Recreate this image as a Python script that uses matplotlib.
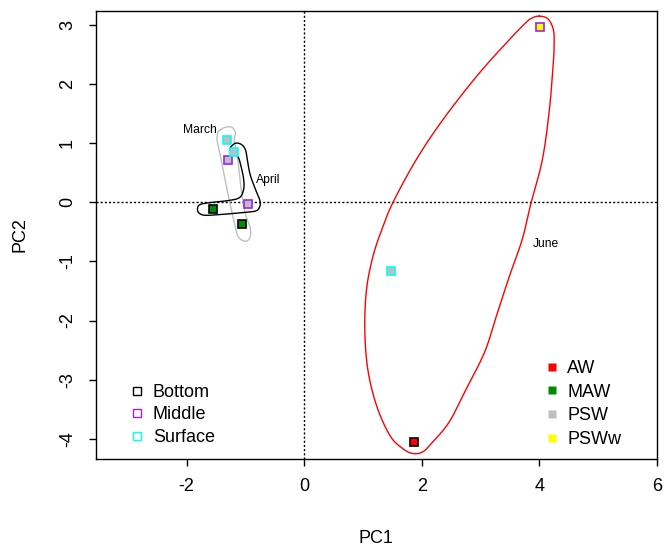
import numpy as np
import matplotlib
matplotlib.use('Agg')
import matplotlib.pyplot as plt
from matplotlib.lines import Line2D

plt.rcParams['font.family'] = ['Liberation Sans', 'DejaVu Sans']
plt.rcParams['axes.unicode_minus'] = False

# PCA scores, one row per sample
month = ['March', 'March', 'March', 'April', 'April', 'April', 'June', 'June', 'June']
depth = ['Surface', 'Middle', 'Bottom'] * 3
water = ['PSW', 'PSW', 'MAW', 'PSW', 'PSW', 'MAW', 'PSW', 'PSWw', 'AW']
pc1 = [-1.31, -1.29, -1.06, -1.20, -0.95, -1.56, 1.47, 4.01, 1.86]
pc2 = [1.05, 0.72, -0.36, 0.85, -0.03, -0.11, -1.16, 2.97, -4.06]

depth_names = ['Bottom', 'Middle', 'Surface']
depth_cols = {'Bottom': 'black', 'Middle': '#A020F0', 'Surface': '#00FFFF'}
water_names = ['AW', 'MAW', 'PSW', 'PSWw']
water_cols = {'AW': '#FF0000', 'MAW': '#008B00', 'PSW': '#BEBEBE', 'PSWw': '#FFFF00'}

# outlines around each month (PC units)
march_x = [-1.42, -1.34, -1.23, -1.17, -1.19, -1.15, -1.12, -1.07, -1.00, -0.92, -0.92,
           -1.00, -1.12, -1.17, -1.25, -1.34, -1.42, -1.48, -1.47]
march_y = [1.23, 1.27, 1.27, 1.18, 1.06, 0.86, 0.64, 0.20, -0.20, -0.42, -0.59,
           -0.66, -0.59, -0.42, -0.08, 0.35, 0.76, 1.03, 1.18]
april_x = [-1.25, -1.17, -1.07, -1.00, -0.97, -0.92, -0.83, -0.76, -0.75, -0.81, -1.00,
           -1.34, -1.68, -1.80, -1.81, -1.75, -1.56, -1.29, -1.10, -1.03, -1.03, -1.07,
           -1.12, -1.20, -1.25]
april_y = [0.93, 1.00, 0.98, 0.89, 0.73, 0.47, 0.22, 0.05, -0.05, -0.14, -0.17,
           -0.20, -0.22, -0.17, -0.08, -0.03, 0.00, 0.03, 0.08, 0.22, 0.39, 0.59,
           0.76, 0.83, 0.86]
june_x = [4.00, 4.15, 4.24, 4.25, 4.24, 4.17, 4.05, 3.86, 3.71, 3.49, 3.27, 3.07, 2.76,
          2.47, 2.19, 2.02, 1.85, 1.68, 1.46, 1.23, 1.08, 1.03, 1.06, 1.17, 1.32, 1.51,
          1.91, 2.36, 2.93, 3.44, 3.77, 3.88]
june_y = [3.15, 3.10, 2.91, 2.66, 2.41, 1.57, 0.72, 0.00, -0.62, -1.25, -1.92, -2.53,
          -3.15, -3.71, -4.05, -4.22, -4.25, -4.17, -3.95, -3.44, -2.82, -2.14, -1.47,
          -0.91, -0.46, 0.00, 0.73, 1.40, 2.13, 2.70, 3.04, 3.12]

month_labels = ['March', 'April', 'June']
label_x = [-1.77, -0.61, 4.11]
label_y = [1.23, 0.38, -0.70]


def closed_spline(xs, ys, n=16):
    # periodic Catmull-Rom through the outline points
    P = np.column_stack([xs, ys])
    N = len(P)
    t = np.linspace(0, 1, n, endpoint=False)[:, None]
    segs = []
    for i in range(N):
        p0, p1, p2, p3 = P[(i - 1) % N], P[i], P[(i + 1) % N], P[(i + 2) % N]
        segs.append(0.5 * (2 * p1 + (-p0 + p2) * t + (2 * p0 - 5 * p1 + 4 * p2 - p3) * t**2
                           + (-p0 + 3 * p1 - 3 * p2 + p3) * t**3))
    segs.append(P[:1])
    out = np.vstack(segs)
    return out[:, 0], out[:, 1]


fig = plt.figure(figsize=(6.64, 5.46), dpi=100)
ax = fig.add_axes([95.5 / 664, 1 - 459 / 546, (657 - 95.5) / 664, (459 - 11) / 546])

ax.axhline(0, color='black', lw=1, ls=(0, (1.5, 1.5)), zorder=1)
ax.axvline(0, color='black', lw=1, ls=(0, (1.5, 1.5)), zorder=1)

for xs, ys, col in [(march_x, march_y, '#BEBEBE'), (april_x, april_y, 'black'),
                    (june_x, june_y, '#FF0000')]:
    sx, sy = closed_spline(xs, ys)
    ax.plot(sx, sy, color=col, lw=1, zorder=2)

for i in range(len(pc1)):
    ax.plot(pc1[i], pc2[i], 's', ms=5.6, mfc=water_cols[water[i]],
            mec=depth_cols[depth[i]], mew=1.2, zorder=3)

for lab, lx, ly in zip(month_labels, label_x, label_y):
    ax.text(lx, ly, lab, fontsize=8.7, ha='center', va='center')

ax.set_xlim(-3.55, 6.0)
ax.set_ylim(-4.343, 3.237)
ax.set_xticks([-2, 0, 2, 4, 6])
ax.set_yticks([-4, -3, -2, -1, 0, 1, 2, 3])
ax.tick_params(direction='out', length=5, width=1, labelsize=13, pad=9)
for lbl in ax.get_yticklabels():
    lbl.set_rotation(90)
    lbl.set_va('center')
for s in ax.spines.values():
    s.set_linewidth(1)
ax.set_xlabel('PC1', fontsize=13, labelpad=25)
ax.set_ylabel('PC2', fontsize=13, labelpad=22)

h_depth = [Line2D([], [], ls='none', marker='s', ms=5.6, mfc='none', mec=depth_cols[d], mew=1)
           for d in depth_names]
h_water = [Line2D([], [], ls='none', marker='s', ms=6, mfc=water_cols[w], mec='none')
           for w in water_names]

leg1 = ax.legend(h_depth, depth_names, loc='upper left', frameon=False, fontsize=13,
                 handlelength=0.8, handletextpad=0.49, labelspacing=0.3, borderpad=0,
                 borderaxespad=0, bbox_to_anchor=(129.5 / 664, 1 - 384 / 546),
                 bbox_transform=fig.transFigure)
ax.add_artist(leg1)
ax.legend(h_water, water_names, loc='upper left', frameon=False, fontsize=13,
          handlelength=0.8, handletextpad=0.45, labelspacing=0.37, borderpad=0,
          borderaxespad=0, bbox_to_anchor=(544.5 / 664, 1 - 360 / 546),
          bbox_transform=fig.transFigure)

fig.savefig('out.png', dpi=100)
